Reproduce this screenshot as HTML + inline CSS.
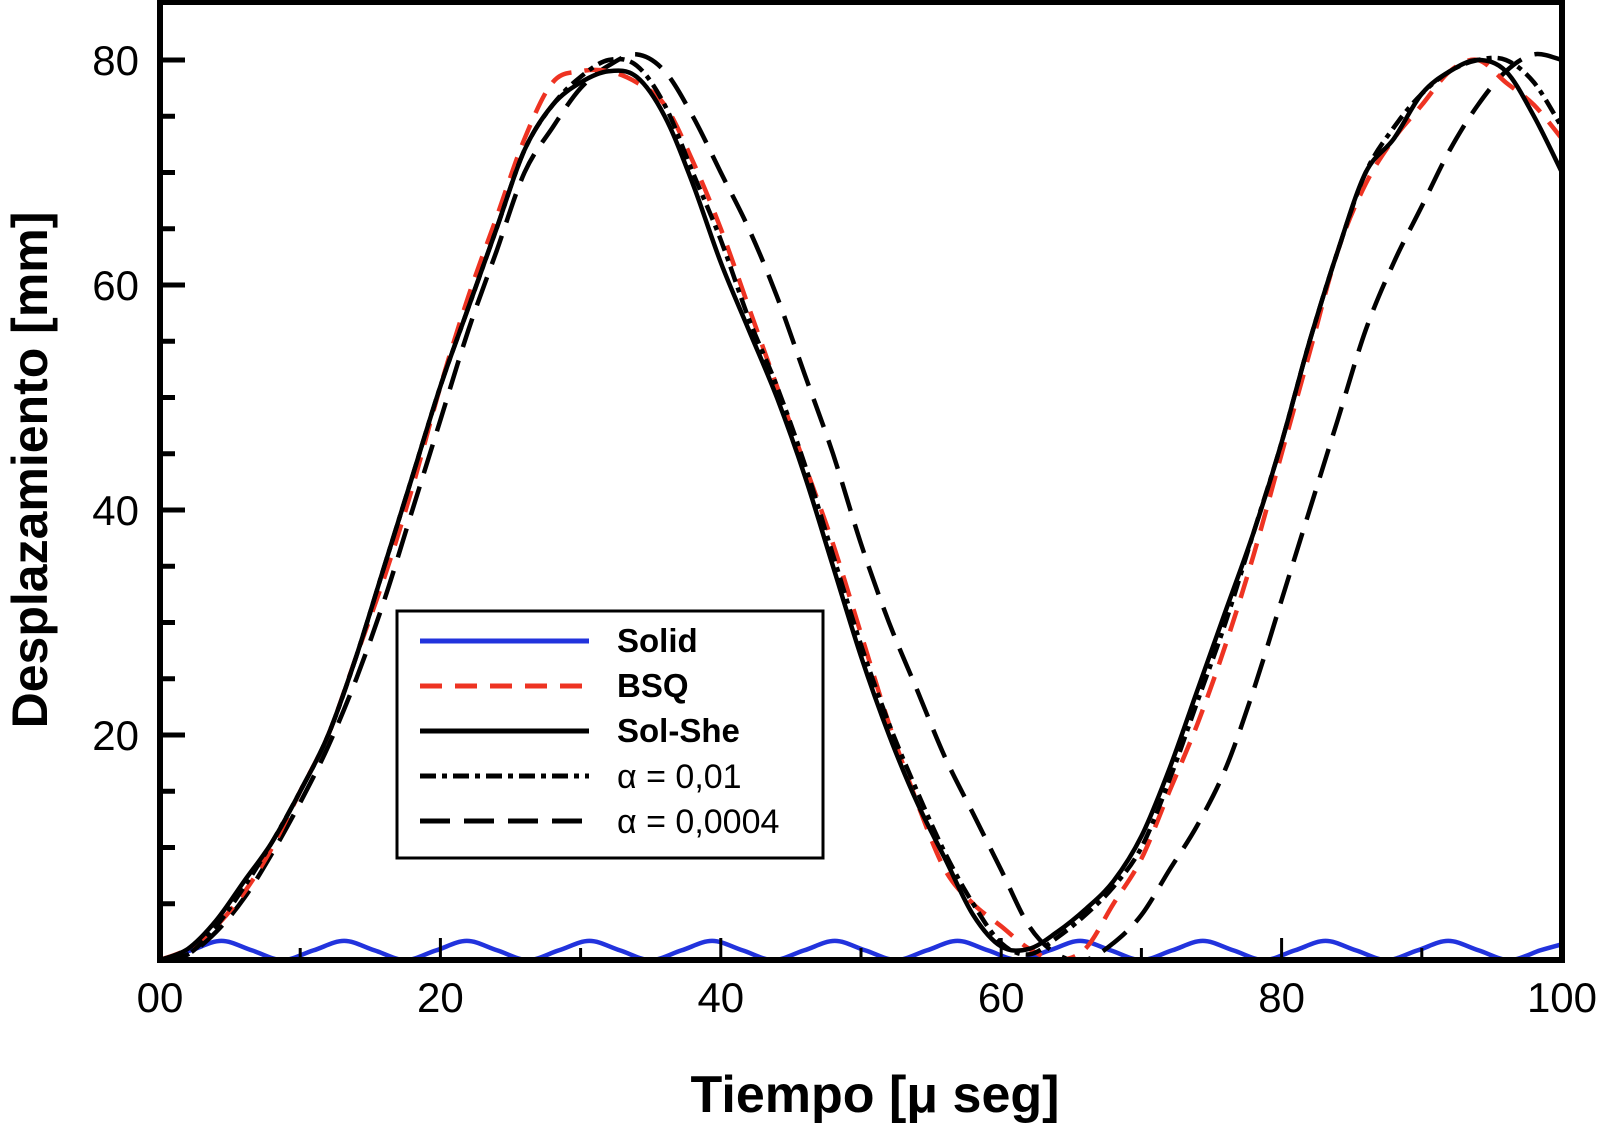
<!DOCTYPE html>
<html><head><meta charset="utf-8"><style>
html,body{margin:0;padding:0;background:#fff;}
svg{display:block;font-family:"Liberation Sans",Arial,sans-serif;}
</style></head><body>
<svg id="chart" width="1604" height="1125" viewBox="0 0 1604 1125">
<g id="series"></g>
<rect x="160" y="2" width="1402" height="958" fill="none" stroke="#000" stroke-width="6"/>
<g id="axes"></g>
<text x="875" y="1112" text-anchor="middle" font-size="52" font-weight="bold">Tiempo [μ seg]</text>
<text transform="translate(47,470) rotate(-90)" text-anchor="middle" font-size="50" font-weight="bold">Desplazamiento [mm]</text>
<g>
<rect x="397" y="611" width="426" height="247" fill="#fff" stroke="#000" stroke-width="3"/>
<line x1="420" y1="641" x2="589" y2="641" stroke="#2233dd" stroke-width="5"/>
<text x="617" y="652" font-size="33" font-weight="bold">Solid</text>
<line x1="420" y1="686" x2="589" y2="686" stroke="#ee3322" stroke-width="5" stroke-dasharray="22 13"/>
<text x="617" y="697" font-size="33" font-weight="bold">BSQ</text>
<line x1="420" y1="731" x2="589" y2="731" stroke="#000" stroke-width="5"/>
<text x="617" y="742" font-size="33" font-weight="bold">Sol-She</text>
<line x1="420" y1="776" x2="589" y2="776" stroke="#000" stroke-width="5" stroke-dasharray="16 6 5 6"/>
<text x="617" y="788" font-size="34">α = 0,01</text>
<line x1="420" y1="821" x2="589" y2="821" stroke="#000" stroke-width="5" stroke-dasharray="30 14"/>
<text x="617" y="833" font-size="34">α = 0,0004</text>
</g>
</svg>
<script>
const tGrid = [0,2,4,6,8,10,12,14,16,18,20,22,24,26,28,30,32,34,36,38,40,42,44,46,48,50,52,54,56,58,60,62,64,66,68,70,72,74,76,78,80,82,84,86,88,90,92,94,96,98,100];
const solShe = [0,1,3.5,7,10.5,15,20,27,35,43,51,58,65,72,76,78,79,78.5,75,69,62,56,50,43,35,27,20,14,9,4,1.2,1,2.5,4.5,7,11,17,24,31,38,46,55,63,70,73,77,79,80,79,75,70];
const bsq = [0,1,3,6,10,15,20,27,34,42,51,59,66,73,78,79,79,78,76,71,65,58,51,44,37,29,21,14,8,5,3,1,0,1,5,9,15,21,28,36,45,54,63,69,73,76,79,80,78,76,73];
const alpha1 = [0,0.5,3,6.5,10.5,15,20,27,35,43,51,58,65,72,76,78.5,80,79.5,76,70,64,57,51,44,36,28,21,15,9.5,5,1.5,0.5,2,4,6.5,10,16,23,30,38,46,55,63,70,74,77,79,80,80,78,74];
const alpha2 = [0,0.5,2.5,5.5,9.5,14,19,25,32,40,48,56,63,70,74,77.5,79.5,80.5,79,75,70,65,59,52,45,37,30,24,18,13,8,3,0.5,0,1.5,4,8,12,17,24,32,40,48,56,62,67,72,76,79,80.5,80];
const solidT = [0,2.19,4.38,6.56,8.75,10.94,13.13,15.31,17.5,19.69,21.88,24.06,26.25,28.44,30.63,32.81,35,37.19,39.38,41.56,43.75,45.94,48.13,50.31,52.5,54.69,56.88,59.06,61.25,63.44,65.63,67.81,70,72.19,74.38,76.56,78.75,80.94,83.13,85.31,87.5,89.69,91.88,94.06,96.25,98.44,100];
const solidV = [0,0.85,1.7,0.85,0,0.85,1.7,0.85,0,0.85,1.7,0.85,0,0.85,1.7,0.85,0,0.85,1.7,0.85,0,0.85,1.7,0.85,0,0.85,1.7,0.85,0,0.85,1.7,0.85,0,0.85,1.7,0.85,0,0.85,1.7,0.85,0,0.85,1.7,0.85,0,0.85,1.4];
const xTicks = [0,10,20,30,40,50,60,70,80,90,100];
const xTickLabels = ["00","20","40","60","80","100"];
const xLabelVals = [0,20,40,60,80,100];
const yTicks = [5,10,15,20,25,30,35,40,45,50,55,60,65,70,75,80];
const yLabelVals = [20,40,60,80];
const yTickLabels = ["20","40","60","80"];

const X = t => 160 + t*14.02;
const Y = v => 960 - v*11.25;
const NS = "http://www.w3.org/2000/svg";

function smooth(ts, vs){
  const p = ts.map((t,i)=>[X(t),Y(vs[i])]);
  let d = "M"+p[0][0].toFixed(1)+","+p[0][1].toFixed(1);
  for(let i=0;i<p.length-1;i++){
    const p0=p[Math.max(0,i-1)],p1=p[i],p2=p[i+1],p3=p[Math.min(p.length-1,i+2)];
    const c1=[p1[0]+(p2[0]-p0[0])/6,p1[1]+(p2[1]-p0[1])/6];
    const c2=[p2[0]-(p3[0]-p1[0])/6,p2[1]-(p3[1]-p1[1])/6];
    d+=" C"+c1[0].toFixed(1)+","+c1[1].toFixed(1)+" "+c2[0].toFixed(1)+","+c2[1].toFixed(1)+" "+p2[0].toFixed(1)+","+p2[1].toFixed(1);
  }
  return d;
}
const sg = document.getElementById("series");
function addPath(ts, vs, color, dash, name){
  const el = document.createElementNS(NS,"path");
  el.setAttribute("d", smooth(ts,vs));
  el.setAttribute("fill","none");
  el.setAttribute("stroke",color);
  el.setAttribute("stroke-width","4.5");
  if(dash) el.setAttribute("stroke-dasharray",dash);
  
  
  sg.appendChild(el);
}
addPath(solidT, solidV, "#2233dd", null, "series-solid");
addPath(tGrid, alpha2, "#000", "30 14", "series-alpha-0-0004");
addPath(tGrid, bsq, "#ee3322", "22 13", "series-bsq");
addPath(tGrid, alpha1, "#000", "16 6 5 6", "series-alpha-0-01");
addPath(tGrid, solShe, "#000", null, "series-sol-she");

const ax = document.getElementById("axes");
xTicks.forEach(t=>{
  const l = document.createElementNS(NS,"line");
  l.setAttribute("x1",X(t)); l.setAttribute("x2",X(t));
  l.setAttribute("y1",960); l.setAttribute("y2", t%20===0?938:948);
  l.setAttribute("stroke","#000"); l.setAttribute("stroke-width","3");
  
  
  ax.appendChild(l);
});
xLabelVals.forEach((t,i)=>{
  const tx = document.createElementNS(NS,"text");
  tx.setAttribute("x",X(t)); tx.setAttribute("y",1012);
  tx.setAttribute("text-anchor","middle"); tx.setAttribute("font-size","42");
  tx.textContent = xTickLabels[i];
  
  
  ax.appendChild(tx);
});
yTicks.forEach(v=>{
  const l = document.createElementNS(NS,"line");
  l.setAttribute("y1",Y(v)); l.setAttribute("y2",Y(v));
  l.setAttribute("x1",160); l.setAttribute("x2", v%20===0?185:175);
  l.setAttribute("stroke","#000"); l.setAttribute("stroke-width","5");
  
  
  ax.appendChild(l);
});
yLabelVals.forEach((v,i)=>{
  const tx = document.createElementNS(NS,"text");
  tx.setAttribute("x",139); tx.setAttribute("y",Y(v)+15);
  tx.setAttribute("text-anchor","end"); tx.setAttribute("font-size","42");
  tx.textContent = yTickLabels[i];
  
  
  ax.appendChild(tx);
});
</script>
</body></html>
